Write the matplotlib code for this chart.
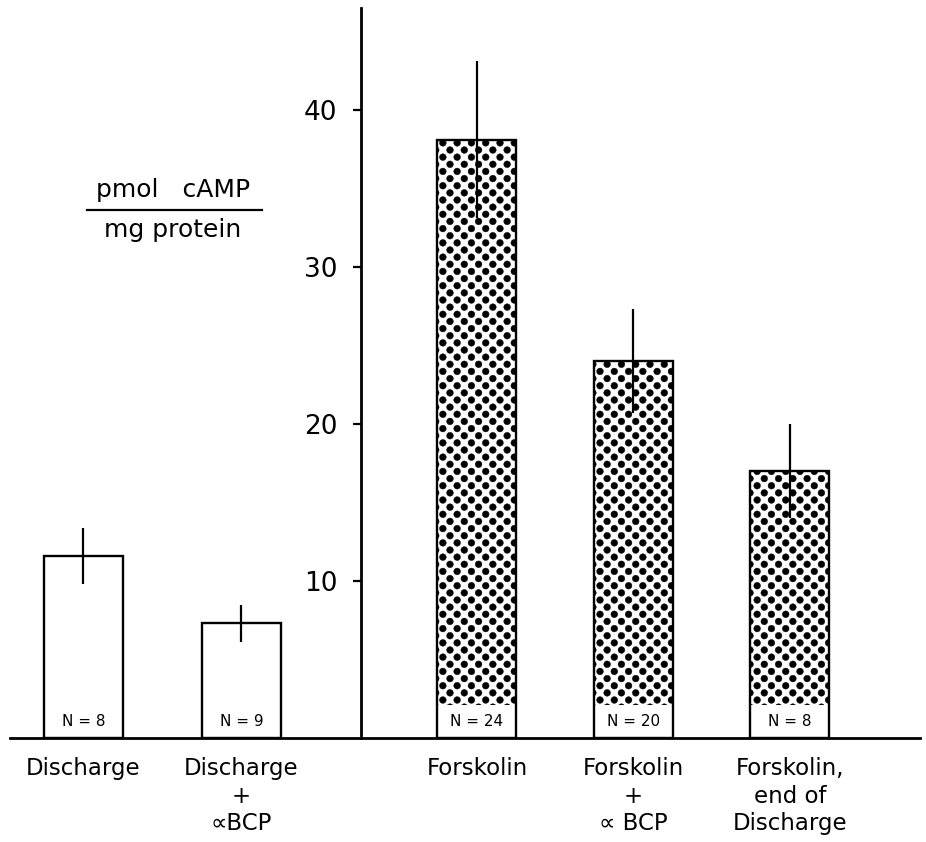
import numpy as np
import matplotlib
matplotlib.use('Agg')
import matplotlib.pyplot as plt
import matplotlib.hatch as mhatch
from matplotlib.path import Path
from matplotlib.lines import Line2D

# ---------------- data ----------------
categories = ['Discharge', 'Discharge\n+\n\u221dBCP', 'Forskolin',
              'Forskolin\n+\n\u221d BCP', 'Forskolin,\nend of\nDischarge']
means = [11.6, 7.3, 38.1, 24.0, 17.0]
errors = [1.8, 1.2, 5.0, 3.3, 3.0]
n_labels = ['N = 8', 'N = 9', 'N = 24', 'N = 20', 'N = 8']
stippled = [False, False, True, True, True]
yticks = [10, 20, 30, 40]
ytick_labels = ['10', '20', '30', '40']

# layout
x_pos = [0, 1, 2.49, 3.48, 4.47]
bar_width = 0.5
band = 2.1           # white label band at the foot of stippled bars
yaxis_at = 1.756

# ---------------- custom dotted (checkerboard) hatch ----------------
class CheckerDots(mhatch.HatchPatternBase):
    def __init__(self, hatch, density):
        self.n = hatch.count('.') * 7
        circ = Path.unit_circle()
        self.cv, self.cc = circ.vertices, circ.codes
        if self.n:
            self.pts = [(i, j) for i in range(self.n + 1)
                        for j in range(self.n + 1) if (i + j) % 2 == 0]
        else:
            self.pts = []
        self.num_vertices = len(self.pts) * len(self.cv)

    def set_vertices_and_codes(self, vertices, codes):
        m = len(self.cv)
        r = 0.47 / self.n
        for k, (i, j) in enumerate(self.pts):
            vertices[k * m:(k + 1) * m] = self.cv * r + (i / self.n, j / self.n)
            codes[k * m:(k + 1) * m] = self.cc

mhatch._hatch_types = [t for t in mhatch._hatch_types
                       if t is not mhatch.SmallFilledCircles] + [CheckerDots]

plt.rcParams['font.family'] = ['DejaVu Sans']
plt.rcParams['hatch.linewidth'] = 0.3
plt.rcParams['hatch.color'] = 'black'

W, H = 926, 842
fig = plt.figure(figsize=(W / 100, H / 100), dpi=100)
ax = fig.add_axes([10 / W, 104 / H, 910 / W, 730 / H])

ax.set_xlim(-0.465, 5.294)
ax.set_ylim(0, 46.5)

for x, m, st in zip(x_pos, means, stippled):
    if st:
        ax.bar(x, m - band, bottom=band, width=bar_width, facecolor='white',
               edgecolor='black', linewidth=0, hatch='..', zorder=2)
    ax.bar(x, m, width=bar_width, facecolor='none', edgecolor='black',
           linewidth=1.7, zorder=3)

ax.errorbar(x_pos, means, yerr=errors, fmt='none', ecolor='black',
            elinewidth=1.6, capsize=0, zorder=4)

for x, lab in zip(x_pos, n_labels):
    ax.text(x, 1.05, lab, ha='center', va='center', fontsize=11, zorder=5)

# spines
for s in ['top', 'right']:
    ax.spines[s].set_visible(False)
ax.spines['left'].set_position(('data', yaxis_at))
ax.spines['left'].set_linewidth(2.0)
ax.spines['bottom'].set_linewidth(2.0)
ax.spines['left'].set_zorder(6)
ax.spines['bottom'].set_zorder(6)

ax.set_yticks(yticks, ytick_labels)
ax.tick_params(axis='y', direction='out', length=6, width=1.6, pad=11,
               labelsize=19)
ax.set_xticks(x_pos, categories)
ax.tick_params(axis='x', length=0, pad=14, labelsize=16.5)
for t in ax.get_xticklabels():
    t.set_linespacing(1.25)

# y-label as a fraction
cx = 173 / W
fig.text(cx, 1 - 197 / H, 'pmol   cAMP', ha='center', va='baseline', fontsize=18)
fig.text(cx, 1 - 237 / H, 'mg protein', ha='center', va='baseline', fontsize=18)
fig.add_artist(Line2D([87 / W, 262 / W], [1 - 210 / H, 1 - 210 / H],
                      transform=fig.transFigure, color='black', linewidth=1.6))

fig.savefig('out.png', dpi=100, facecolor='white')
